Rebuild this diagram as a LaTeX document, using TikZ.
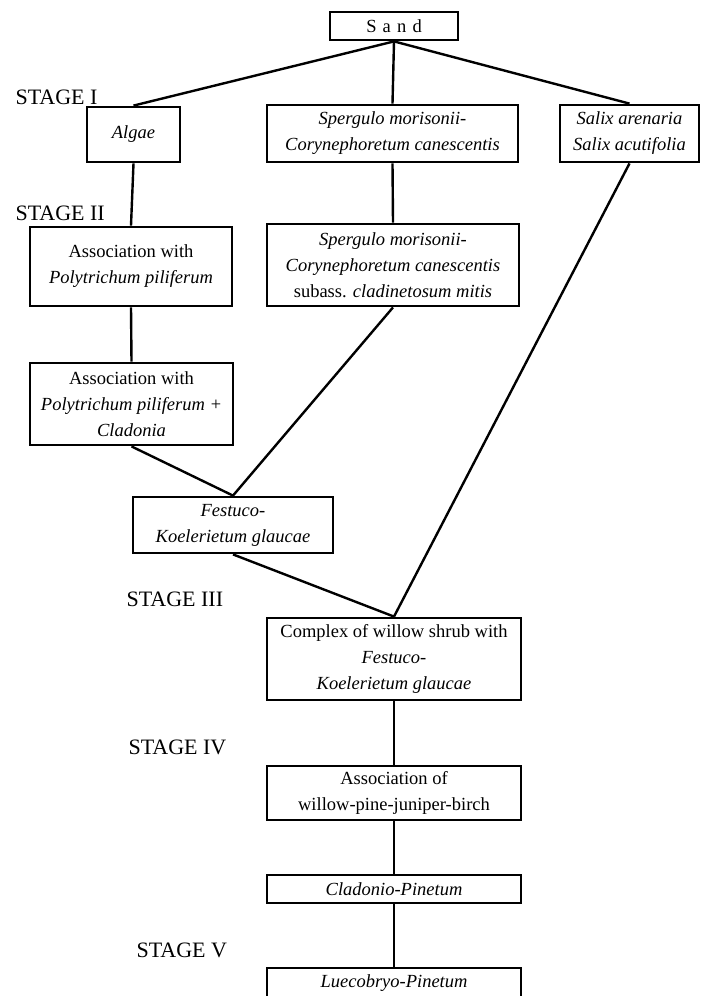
\documentclass[tikz,border=0pt]{standalone}
\usepackage{fontspec}
\setmainfont{Liberation Serif}
\tikzset{
  box/.style={draw, line width=2.8pt, align=center, inner sep=0pt, font=\fontsize{18.5}{26}\selectfont},
  wide/.style={box, minimum width=254pt},
  stage/.style={anchor=west, font=\fontsize{22}{24}\selectfont},
}
\begin{document}
\begin{tikzpicture}[x=1pt, y=-1pt, line width=2.4pt]
    \useasboundingbox (0,0) rectangle (701,996);
    \clip (0,0) rectangle (701,996);

    \node[stage] (s1) at (11,97)  {STAGE I};
    \node[stage] (s2) at (11,213) {STAGE II};
    \node[stage] (s3) at (122,599) {STAGE III};
    \node[stage] (s4) at (124,747) {STAGE IV};
    \node[stage] (s5) at (132,950) {STAGE V};

    \node[box, minimum width=128pt, minimum height=28pt] (sand) at (394,26) {S\,\,a\,\,n\,\,d};
    \node[box, minimum width=93pt, minimum height=55pt] (algae) at (133.5,134.5) {\textit{Algae}};
    \node[box, minimum width=251pt, minimum height=57pt] (sper1) at (392.5,133.5)
        {\textit{Spergulo morisonii-}\\\textit{Corynephoretum canescentis}};
    \node[box, minimum width=139pt, minimum height=57pt] (salix) at (629.5,133.5)
        {\textit{Salix arenaria}\\\textit{Salix acutifolia}};

    \node[box, minimum width=202pt, minimum height=79pt] (poly) at (131,266.5)
        {Association with\\\textit{Polytrichum piliferum}};
    \node[box, minimum width=252pt, minimum height=82pt] (sper2) at (393,265)
        {\textit{Spergulo morisonii-}\\\textit{Corynephoretum canescentis}\\subass. \textit{cladinetosum mitis}};
    \node[box, minimum width=203pt, minimum height=82pt] (clad) at (131.5,404)
        {Association with\\\textit{Polytrichum piliferum +}\\\textit{Cladonia}};
    \node[box, minimum width=200pt, minimum height=56pt] (fest) at (233,525)
        {\textit{Festuco-}\\\textit{Koelerietum glaucae}};

    \node[wide, minimum height=82pt] (cplx) at (394,659)
        {Complex of willow shrub with\\\textit{Festuco-}\\\textit{Koelerietum glaucae}};
    \node[wide, minimum height=54pt] (wpjb) at (394,793)
        {Association of\\willow-pine-juniper-birch};
    \node[wide, minimum height=28pt] (cpin) at (394,889) {\textit{Cladonio-Pinetum}};
    \node[wide, minimum height=30pt] (lpin) at (394,983) {\textit{Luecobryo-Pinetum}};

    \draw (sand.south) -- (algae.north);
    \draw (sand.south) -- (sper1.north);
    \draw (sand.south) -- (salix.north);
    \draw (algae.south) -- (poly.north);
    \draw (sper1.south) -- (sper2.north);
    \draw (poly.south) -- (clad.north);
    \draw (clad.south) -- (fest.north);
    \draw (sper2.south) -- (fest.north);
    \draw (salix.south) -- (cplx.north);
    \draw (fest.south) -- (cplx.north);
    \draw (cplx.south) -- (wpjb.north);
    \draw (wpjb.south) -- (cpin.north);
    \draw (cpin.south) -- (lpin.north);
\end{tikzpicture}
\end{document}
